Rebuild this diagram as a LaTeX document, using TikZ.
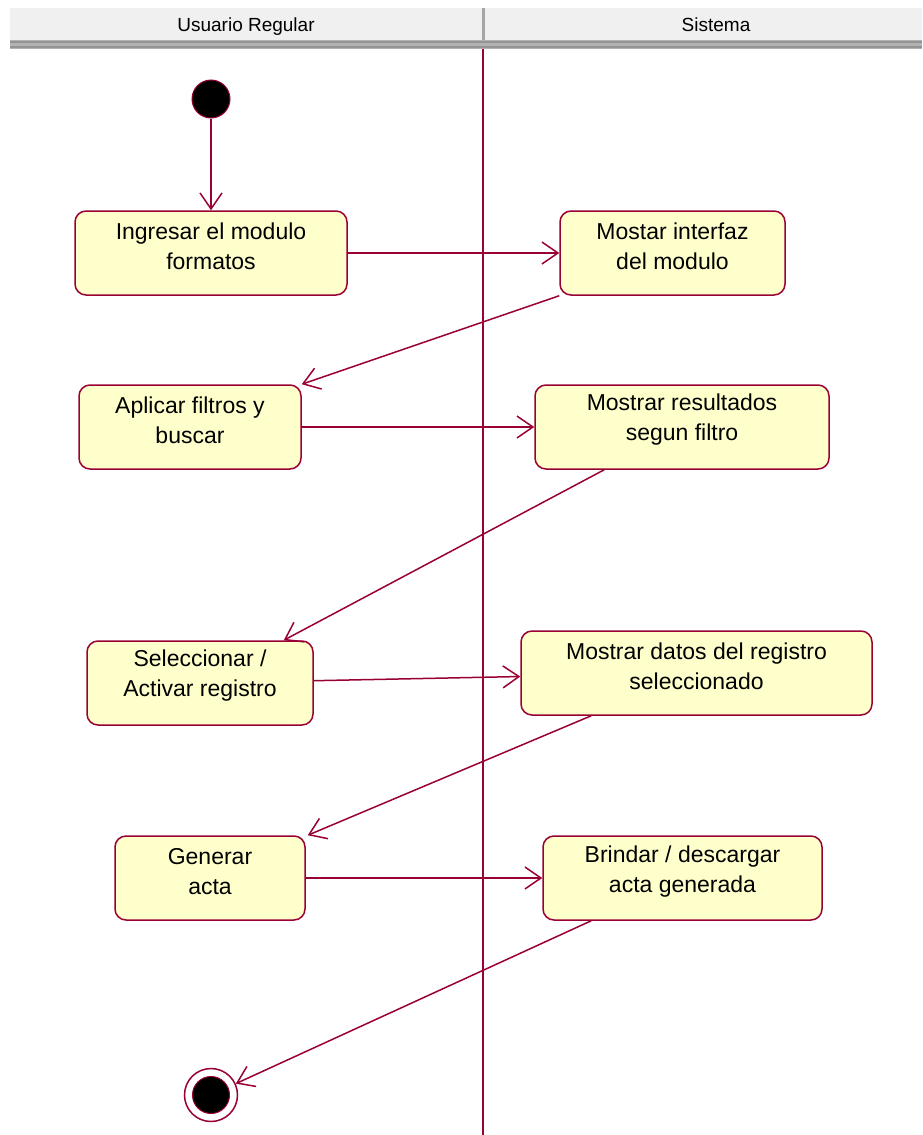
\documentclass[tikz,border=0pt]{standalone}
\usepackage{fontspec}
\setmainfont{Liberation Sans}
\usetikzlibrary{arrows.meta}
\definecolor{umlred}{RGB}{153,0,51}
\definecolor{umlfill}{RGB}{255,255,204}
\definecolor{hdrbg}{RGB}{240,240,240}
\tikzstyle{act}=[draw=umlred, fill=umlfill, line width=1.5pt, rounded corners=11pt, inner sep=0pt, minimum height=84pt]
\tikzstyle{acttext}=[align=center, inner sep=0pt, font=\fontsize{23}{30}\selectfont]
\tikzstyle{startdot}=[circle, draw=umlred, fill=black, line width=1pt, inner sep=0pt, minimum size=38pt]
\tikzstyle{endring}=[circle, draw=umlred, fill=white, line width=1.5pt, inner sep=0pt, minimum size=53pt]
\tikzstyle{hdr}=[anchor=base, font=\fontsize{19}{21}\selectfont]
\tikzstyle{flow}=[->, draw=umlred, line width=1.5pt]

\begin{document}
\begin{tikzpicture}[x=1pt,y=-1pt,>={Straight Barb[length=16pt,width=22pt]}]
        \useasboundingbox (0,0) rectangle (922,1135);
        % swimlane header
        \fill[hdrbg] (10,8) rectangle (922,40);
        \fill[gray!60] (10,40) rectangle (922,49);
        \draw[gray!85, line width=2pt] (10,42) -- (922,42);
        \draw[gray!85, line width=2pt] (10,47) -- (922,47);
        \draw[gray!70, line width=3pt] (483,8) -- (483,40);
        \node [hdr] (lane1) at (246,31) {Usuario Regular};
        \node [hdr] (lane2) at (716,31) {Sistema};
        \draw[umlred, line width=1.5pt] (483,49) -- (483,1135);
        % activities
        \node [startdot] (ini) at (211,99) {};
        \node [act, minimum width=272pt] (a) at (211,253) {};
        \node [act, minimum width=225pt] (b) at (672.5,253) {};
        \node [act, minimum width=222pt] (c) at (190,427) {};
        \node [act, minimum width=294pt] (d) at (682,427) {};
        \node [act, minimum width=226pt] (e) at (200,683) {};
        \node [act, minimum width=351pt] (f) at (696.5,673) {};
        \node [act, minimum width=190pt] (g) at (210,878) {};
        \node [act, minimum width=279pt] (h) at (682.5,878) {};
        \node [acttext] (at) at ([yshift=7pt]a) {Ingresar el modulo\\formatos};
        \node [acttext] (bt) at ([yshift=7pt]b) {Mostar interfaz\\del modulo};
        \node [acttext] (ct) at ([yshift=7pt]c) {Aplicar filtros y\\buscar};
        \node [acttext] (dt) at ([yshift=7pt]d) {Mostrar resultados\\segun filtro};
        \node [acttext] (et) at ([yshift=7pt]e) {Seleccionar /\\Activar registro};
        \node [acttext] (ft) at ([yshift=7pt]f) {Mostrar datos del registro\\seleccionado};
        \node [acttext] (gt) at ([yshift=6pt]g) {Generar\\acta};
        \node [acttext] (ht) at ([yshift=6pt]h) {Brindar / descargar\\acta generada};
        \node [endring] (fin) at (211,1095) {};
        \node [startdot, minimum size=37pt] (finin) at (fin) {};
        % transitions
        \draw[flow] (ini) -- (a);
        \draw[flow] (a) -- (b);
        \draw[flow] (b.south west) -- (c.north east);
        \draw[flow] (c) -- (d);
        \draw[flow] ([xshift=70pt]d.south west) -- ([xshift=-30pt]e.north east);
        \draw[flow] (e) -- (f);
        \draw[flow] ([xshift=71pt]f.south west) -- ([xshift=2pt]g.north east);
        \draw[flow] (g) -- (h);
        \draw[flow] ([xshift=49pt]h.south west) -- (fin);
\end{tikzpicture}
\end{document}
